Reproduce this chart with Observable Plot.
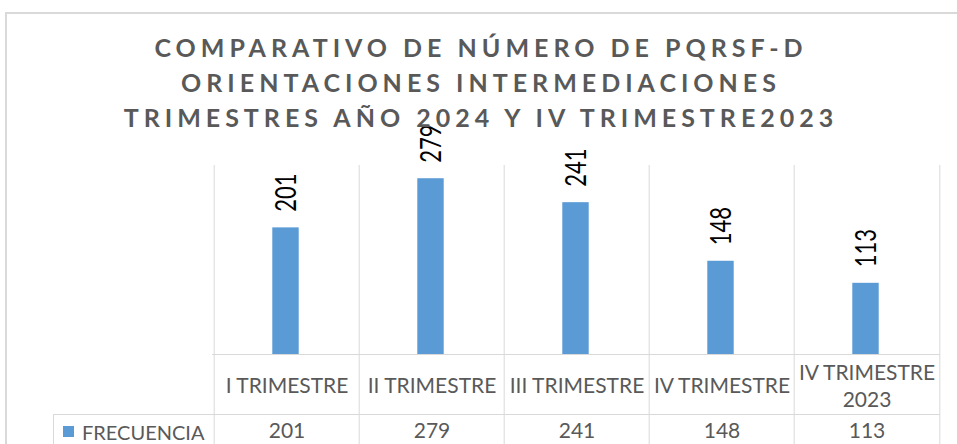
<!DOCTYPE html>
<html>
<head>
<meta charset="utf-8">
<script src="https://cdn.jsdelivr.net/npm/d3@7"></script>
<script src="https://cdn.jsdelivr.net/npm/@observablehq/plot@0.6"></script>
<style>
  html, body { margin: 0; padding: 0; background: #fff; }
  #chart { position: relative; width: 957px; height: 444px; overflow: hidden; background: #fff; font-family: Lato, "Open Sans", sans-serif; }
  #frame { position: absolute; left: 5px; top: 12px; width: 980px; height: 480px; border: 2px solid #d9d9d9; box-sizing: border-box; }
  #plot { position: absolute; left: 0; top: 0; }
  #title { position: absolute; left: 0; top: 30px; width: 962px; text-align: center; font-weight: 700; font-size: 25px; line-height: 35px; letter-spacing: 5px; color: #595959; }
  #legend { position: absolute; left: 53px; top: 414px; width: 159px; height: 40px; border-top: 1px solid #d9d9d9; border-left: 1px solid #d9d9d9; box-sizing: border-box; }
  #legend .sw { position: absolute; left: 9px; top: 11px; width: 11px; height: 11px; background: #5b9bd5; }
  #legend .lb { position: absolute; left: 28px; top: 4px; font-size: 20px; line-height: 26px; color: #595959; }
</style>
</head>
<body>
<div id="chart">
  <div id="frame"></div>
  <div id="plot"></div>
  <div id="title"></div>
  <div id="legend"><div class="sw"></div><div class="lb"></div></div>
</div>
<script>
const titleLines = ["COMPARATIVO DE NÚMERO DE PQRSF-D", "ORIENTACIONES INTERMEDIACIONES", "TRIMESTRES AÑO 2024 Y IV TRIMESTRE2023"];
const categories = ["I TRIMESTRE", "II TRIMESTRE", "III TRIMESTRE", "IV TRIMESTRE", "IV TRIMESTRE\n2023"];
const values = [201, 279, 241, 148, 113];
const seriesName = "FRECUENCIA";
const yMax = 300;

document.getElementById("title").innerHTML = titleLines.join("<br>");
document.querySelector("#legend .lb").textContent = seriesName;

const data = categories.map((c, i) => ({category: c, value: values[i]}));

const W = 957, H = 444;
const mL = 212, mR = 17, mT = 165, mB = 90;
const bw = (W - mL - mR) / categories.length;
const grid = "#d9d9d9";

const chart = Plot.plot({
  width: W,
  height: H,
  marginLeft: mL,
  marginRight: mR,
  marginTop: mT,
  marginBottom: mB,
  style: {fontFamily: "Lato, 'Open Sans', sans-serif", background: "transparent", overflow: "visible"},
  x: {domain: categories, padding: 0, axis: null},
  y: {domain: [0, yMax], axis: null},
  marks: [
    Plot.ruleX(categories, {x: d => d, dx: -bw / 2, stroke: grid, strokeWidth: 1, insetBottom: -mB}),
    Plot.ruleX(categories.slice(-1), {x: d => d, dx: bw / 2, stroke: grid, strokeWidth: 1, insetBottom: -mB}),
    Plot.ruleY([0], {stroke: grid, strokeWidth: 1}),
    Plot.ruleY([0], {stroke: grid, strokeWidth: 1, dy: 60}),
    Plot.barY(data, {x: "category", y: "value", fill: "#5b9bd5", insetLeft: (bw - 27) / 2 - 1, insetRight: (bw - 27) / 2 + 1}),
    Plot.text(data, {x: "category", y: "value", text: d => String(d.value), rotate: -90, textAnchor: "start", lineAnchor: "middle", dy: -16, fontSize: 22, fill: "#000", className: "datalabel"}),
    Plot.text(data, {x: "category", text: "category", frameAnchor: "bottom", dy: 30, lineAnchor: "middle", lineHeight: 1.29, fontSize: 21, fill: "#595959"}),
    Plot.text(data, {x: "category", text: d => String(d.value), frameAnchor: "bottom", dy: 77, lineAnchor: "middle", fontSize: 21, fill: "#595959"})
  ]
});
document.getElementById("plot").appendChild(chart);
chart.querySelectorAll(".datalabel text").forEach(t => {
  const tr = t.getAttribute("transform");
  if (tr) t.setAttribute("transform", tr + " scale(1,1.3)");
});
</script>
</body>
</html>
